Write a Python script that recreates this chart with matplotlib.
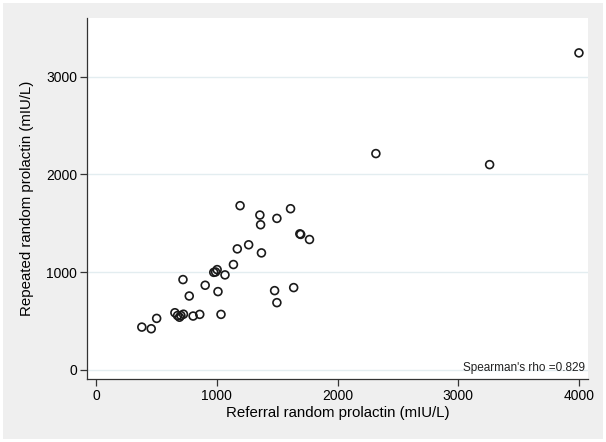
import matplotlib
matplotlib.use("Agg")
import matplotlib.pyplot as plt
from matplotlib.patches import Rectangle

plt.rcParams['font.family'] = ['Liberation Sans', 'DejaVu Sans']

referral = [4000, 2318, 3260, 1193, 1611, 1357, 1498, 1363, 1688, 1695, 1768,
            1264, 1170, 1370, 1138, 975, 990, 1003, 1068, 720, 904, 1479, 1637,
            1010, 772, 1498, 653, 675, 691, 703, 724, 804, 859, 1035, 502, 379, 457]
repeated = [3243, 2213, 2100, 1680, 1649, 1584, 1550, 1485, 1392, 1386, 1334,
            1280, 1238, 1197, 1078, 998, 1002, 1026, 972, 924, 866, 811, 842,
            801, 756, 688, 585, 556, 539, 556, 570, 551, 568, 568, 527, 438, 421]
xticks = [0, 1000, 2000, 3000, 4000]
yticks = [0, 1000, 2000, 3000]
annotation = "Spearman's rho =0.829"

W, H = 606, 442
fig = plt.figure(figsize=(W / 100, H / 100), dpi=100)
fig.patch.set_facecolor('white')
fig.patches.append(Rectangle((3 / W, 3 / H), 1 - 6 / W, 1 - 6 / H,
                             transform=fig.transFigure, facecolor='#efefef',
                             edgecolor='none', zorder=-10))

ax = fig.add_axes([87 / W, 1 - 379 / H, (588 - 87) / W, (379 - 18) / H])
ax.set_zorder(5)
ax.set_facecolor('white')
ax.set_xlim(-75, 4075)
ax.set_ylim(-93, 3600)

ax.scatter(referral, repeated, s=32, facecolors='none', edgecolors='#1a1a1a',
           linewidths=1.2, zorder=3)

ax.set_xticks(xticks)
ax.set_yticks(yticks)
ax.tick_params(axis='both', labelsize=10, colors='#333333', length=5, width=0.9,
               labelcolor='black')
ax.tick_params(axis='y', pad=2)
ax.tick_params(axis='x', pad=2.5)
ax.grid(axis='y', color='#e3edf0', linewidth=1.0, zorder=0)
ax.set_axisbelow(True)
for s in ['top', 'right']:
    ax.spines[s].set_visible(False)
for s in ['left', 'bottom']:
    ax.spines[s].set_color('#333333')
    ax.spines[s].set_linewidth(0.9)

ax.set_xlabel('Referral random prolactin (mIU/L)', fontsize=10.8, labelpad=2)
ax.set_ylabel('Repeated random prolactin (mIU/L)', fontsize=10.8, labelpad=9)
ax.text(0.995, 0.015, annotation, transform=ax.transAxes, ha='right', va='bottom',
        fontsize=8.5, color='#222222')

fig.savefig('out.png', dpi=100)
